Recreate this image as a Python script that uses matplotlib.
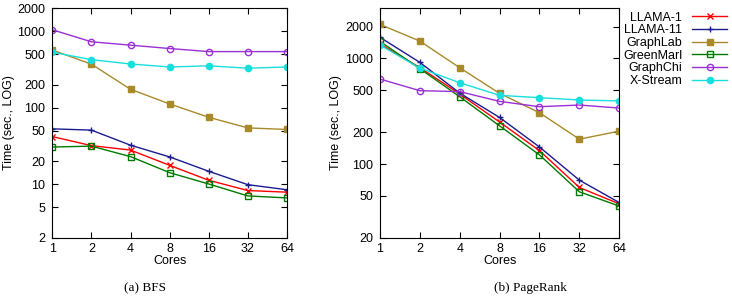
import numpy as np
import matplotlib.pyplot as plt
from matplotlib.ticker import FixedLocator, FixedFormatter, NullLocator

plt.rcParams['font.family'] = ['Liberation Sans', 'DejaVu Sans']
plt.rcParams['font.size'] = 9

cores = [1, 2, 4, 8, 16, 32, 64]
names = ['LLAMA-1', 'LLAMA-11', 'GraphLab', 'GreenMarl', 'GraphChi', 'X-Stream']

# BFS times (sec)
bfs_llama1 = [42, 32, 28, 17.7, 11.3, 8.3, 7.9]
bfs_llama11 = [53, 51, 32.4, 22.8, 14.8, 9.9, 8.5]
bfs_graphlab = [566, 370, 174, 112, 75, 54.5, 52]
bfs_greenmarl = [30.7, 31.5, 23, 14.2, 10.1, 7.06, 6.65]
bfs_graphchi = [1040, 725, 655, 592, 540, 540, 540]
bfs_xstream = [530, 424, 372, 340, 352, 328, 340]

# PageRank times (sec)
pr_llama1 = [1370, 820, 460, 250, 134, 60, 42]
pr_llama11 = [1585, 918, 470, 276, 145, 70.4, 43.2]
pr_graphlab = [2100, 1460, 817, 467, 306, 172, 205]
pr_greenmarl = [1450, 800, 434, 230, 122, 54.6, 40]
pr_graphchi = [638, 495, 485, 392, 349, 362, 339]
pr_xstream = [1340, 810, 589, 447, 425, 404, 396]

colors = ['#ff0000', '#1c1c8f', '#a88a2a', '#007a00', '#9a2fd6', '#19dede']
markers = ['x', '+', 's', 's', 'o', 'o']
fills = [True, True, True, False, False, True]

fig = plt.figure(figsize=(7.32, 2.97), dpi=100)
ax1 = fig.add_axes([0.0715, 0.199, 0.3205, 0.774])
ax2 = fig.add_axes([0.519, 0.199, 0.327, 0.774])

def draw(ax, series, ylim, yticks):
    for s, name, c, m, f in zip(series, names, colors, markers, fills):
        ax.plot(cores, s, color=c, marker=m, markersize=4.5, linewidth=1.0,
                markerfacecolor=c if f else 'none', markeredgecolor=c,
                markeredgewidth=1.0, label=name)
    ax.set_xscale('log', base=2)
    ax.set_yscale('log')
    ax.set_xlim(1, 64)
    ax.set_ylim(*ylim)
    ax.xaxis.set_major_locator(FixedLocator(cores))
    ax.xaxis.set_major_formatter(FixedFormatter([str(c) for c in cores]))
    ax.xaxis.set_minor_locator(NullLocator())
    ax.yaxis.set_major_locator(FixedLocator(yticks))
    ax.yaxis.set_major_formatter(FixedFormatter([str(t) for t in yticks]))
    ax.yaxis.set_minor_locator(NullLocator())
    ax.tick_params(direction='in', top=True, right=True, length=4, width=0.8)
    ax.tick_params(axis='x', pad=4)
    ax.tick_params(axis='y', pad=5)
    ax.set_xlabel('Cores', labelpad=0)
    ax.set_ylabel('Time (sec., LOG)', labelpad=2)

draw(ax1, [bfs_llama1, bfs_llama11, bfs_graphlab, bfs_greenmarl, bfs_graphchi, bfs_xstream],
     (2, 2000), [2, 5, 10, 20, 50, 100, 200, 500, 1000, 2000])
draw(ax2, [pr_llama1, pr_llama11, pr_graphlab, pr_greenmarl, pr_graphchi, pr_xstream],
     (20, 3000), [20, 50, 100, 200, 500, 1000, 2000])

ax2.legend(loc='upper left', bbox_to_anchor=(1.0, 1.0), frameon=False, markerfirst=False,
           handlelength=2.8, handletextpad=0.8, labelspacing=0.05, borderaxespad=0.2,
           borderpad=0.1)

fig.text(0.198, 0.03, '(a) BFS', ha='center', va='center',
         family=['Liberation Serif'], fontsize=9.5)
fig.text(0.725, 0.03, '(b) PageRank', ha='center', va='center',
         family=['Liberation Serif'], fontsize=9.5)

fig.savefig('out.png', dpi=100)
